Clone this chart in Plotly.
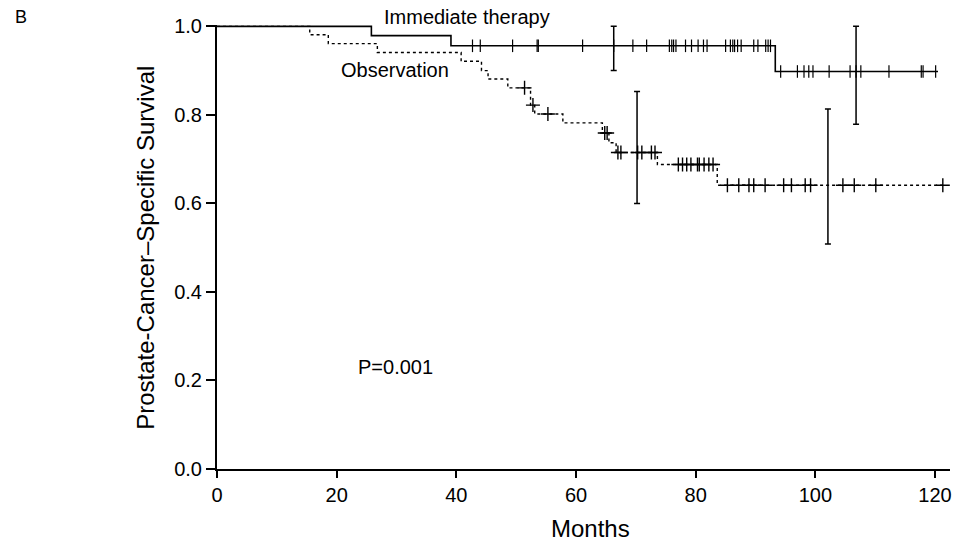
import plotly.graph_objects as go

# Immediate therapy: step times and survival
imm_t = [0, 25.8, 39.1, 93.3, 120.5]
imm_s = [1.0, 0.979, 0.956, 0.898, 0.898]
imm_c1_t = [42.7, 44.0, 49.4, 53.5, 53.7, 61.1, 66.3, 69.5, 71.8, 75.6, 76.0, 76.3,
            76.7, 78.3, 79.3, 80.4, 81.3, 81.9, 85.0, 85.8, 86.2, 86.5, 87.0, 87.6,
            89.7, 90.4, 91.7, 92.1, 92.5]
imm_c1_s = 0.956
imm_c2_t = [94.2, 97.0, 98.1, 98.9, 99.6, 102.3, 105.8, 106.8, 107.6, 112.3, 117.7,
            118.0, 120.1]
imm_c2_s = 0.898
imm_ci_t = [66.3, 106.8]
imm_ci_s = [0.956, 0.898]
imm_ci_lo = [0.900, 0.779]
imm_ci_hi = [1.0, 1.0]

# Observation
obs_t = [0, 15.5, 18.6, 26.8, 40.8, 44.2, 45.3, 48.6, 52.4, 53.1, 57.8, 64.4, 65.5,
         66.7, 73.6, 83.6, 121.3]
obs_s = [1.0, 0.981, 0.961, 0.941, 0.921, 0.900, 0.881, 0.861, 0.822, 0.802, 0.782,
         0.759, 0.737, 0.715, 0.688, 0.641, 0.641]
obs_cens_t = [51.4, 52.8, 55.3, 64.8, 65.2,
              67.0, 67.5, 70.3, 71.0, 72.6, 73.2,
              77.1, 77.8, 78.5, 79.2, 80.3, 80.6, 81.4, 82.2, 82.9,
              85.3, 87.2, 88.9, 89.7, 91.6, 94.7, 96.0, 98.3, 99.2, 104.6, 106.5,
              110.1, 121.3]
obs_cens_s = [0.861, 0.822, 0.802, 0.759, 0.759,
              0.715, 0.715, 0.715, 0.715, 0.715, 0.715,
              0.688, 0.688, 0.688, 0.688, 0.688, 0.688, 0.688, 0.688, 0.688,
              0.641, 0.641, 0.641, 0.641, 0.641, 0.641, 0.641, 0.641, 0.641, 0.641,
              0.641, 0.641, 0.641]
obs_ci_t = [70.2, 102.1]
obs_ci_s = [0.715, 0.641]
obs_ci_lo = [0.600, 0.508]
obs_ci_hi = [0.853, 0.813]

x_ticks = [0, 20, 40, 60, 80, 100, 120]
y_ticks = [0.0, 0.2, 0.4, 0.6, 0.8, 1.0]

FONT = "Liberation Sans, Arial, sans-serif"
fig = go.Figure()

fig.add_trace(go.Scatter(x=obs_t, y=obs_s, mode="lines", line_shape="hv",
                         line=dict(color="black", width=1.4, dash="dot"),
                         showlegend=False, hoverinfo="skip"))
fig.add_trace(go.Scatter(x=imm_t, y=imm_s, mode="lines", line_shape="hv",
                         line=dict(color="black", width=1.6),
                         showlegend=False, hoverinfo="skip"))
fig.add_trace(go.Scatter(x=imm_c1_t + imm_c2_t,
                         y=[imm_c1_s] * len(imm_c1_t) + [imm_c2_s] * len(imm_c2_t),
                         mode="markers",
                         marker=dict(symbol="line-ns", size=9,
                                     line=dict(color="black", width=1.2)),
                         showlegend=False, hoverinfo="skip"))
fig.add_trace(go.Scatter(x=obs_cens_t, y=obs_cens_s, mode="markers",
                         marker=dict(symbol="cross-thin", size=10,
                                     line=dict(color="black", width=1.4)),
                         showlegend=False, hoverinfo="skip"))

for ts, ss, lo, hi in [(imm_ci_t, imm_ci_s, imm_ci_lo, imm_ci_hi),
                       (obs_ci_t, obs_ci_s, obs_ci_lo, obs_ci_hi)]:
    fig.add_trace(go.Scatter(
        x=ts, y=ss, mode="markers", marker=dict(size=1, color="black"),
        error_y=dict(type="data", symmetric=False,
                     array=[h - s for h, s in zip(hi, ss)],
                     arrayminus=[s - l for s, l in zip(ss, lo)],
                     width=3, thickness=1.5, color="black"),
        showlegend=False, hoverinfo="skip", cliponaxis=False))

fig.update_layout(
    width=956, height=541,
    margin=dict(l=217, r=4, t=25, b=72),
    paper_bgcolor="white", plot_bgcolor="white",
    font=dict(family=FONT, color="black", size=20),
    xaxis=dict(range=[0, 122.5], tickvals=x_ticks, ticktext=[str(v) for v in x_ticks],
               showgrid=False, zeroline=False, showline=True, linecolor="black",
               linewidth=2, ticks="outside", ticklen=7, tickwidth=2, tickcolor="black",
               tickfont=dict(size=20)),
    yaxis=dict(range=[0, 1.003], tickvals=y_ticks, ticktext=[f"{v:.1f}" for v in y_ticks],
               showgrid=False, zeroline=False, showline=True, linecolor="black",
               linewidth=2, ticks="outside", ticklen=9, tickwidth=2, tickcolor="black",
               tickfont=dict(size=20)),
    annotations=[
        dict(text="Months", xref="paper", yref="paper", x=0.509, y=-0.135,
             xanchor="center", yanchor="middle", showarrow=False, font=dict(size=24)),
        dict(text="Prostate-Cancer\u2013Specific Survival", xref="paper", yref="paper",
             x=-0.097, y=0.498, xanchor="center", yanchor="middle", textangle=-90,
             showarrow=False, font=dict(size=24)),
        dict(text="B", xref="paper", yref="paper", x=-0.268, y=1.018,
             xanchor="center", yanchor="middle", showarrow=False, font=dict(size=18)),
        dict(text="Immediate therapy", x=41.7, y=1.019, xref="x", yref="paper",
             xanchor="center", yanchor="middle", showarrow=False, font=dict(size=20)),
        dict(text="Observation", x=29.7, y=0.902, xref="x", yref="y",
             xanchor="center", yanchor="middle", showarrow=False, font=dict(size=20)),
        dict(text="P=0.001", x=29.9, y=0.231, xref="x", yref="y",
             xanchor="center", yanchor="middle", showarrow=False, font=dict(size=20)),
    ],
)

fig.write_html("out.html", config={"displayModeBar": False},
               post_script="document.body.style.margin='0';document.body.style.overflow='hidden';")
